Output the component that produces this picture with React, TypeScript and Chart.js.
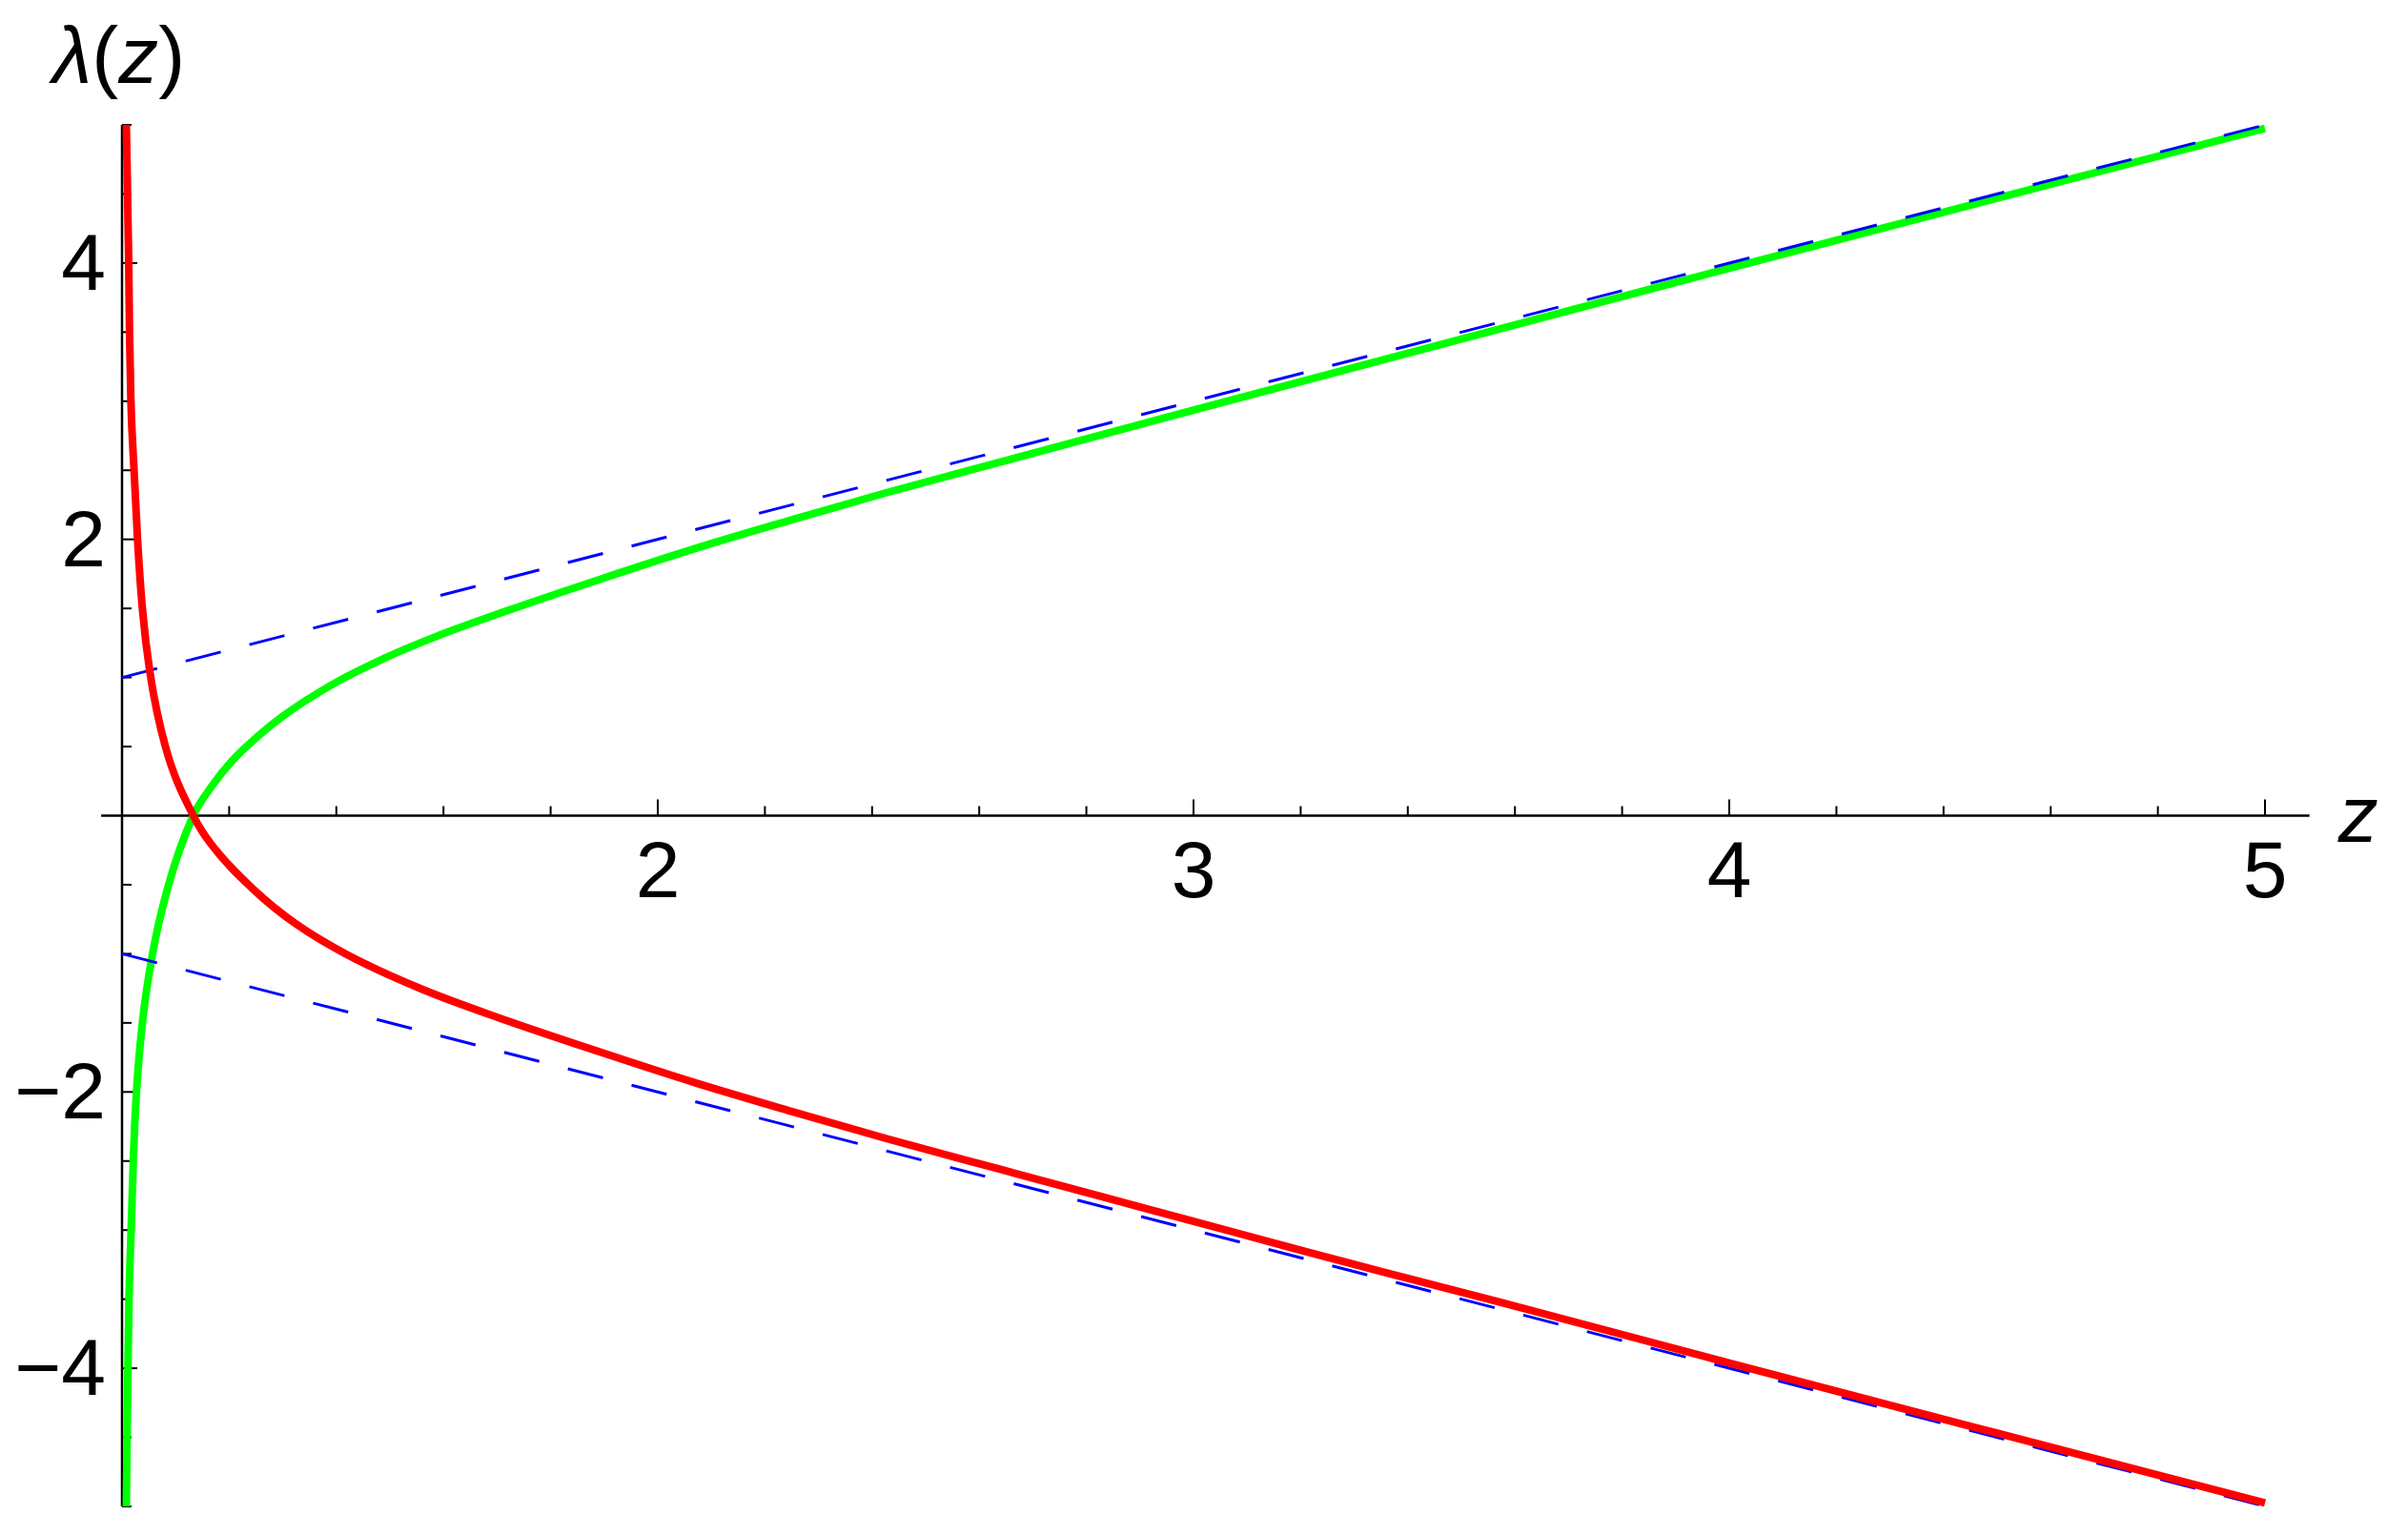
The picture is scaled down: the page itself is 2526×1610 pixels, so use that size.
import { useEffect, useRef } from 'react';
import { Chart, registerables } from 'chart.js';

Chart.register(...registerables);

// ---- data ----
const zGreen = [1.008, 1.011, 1.013, 1.017, 1.021, 1.027, 1.038, 1.057, 1.087, 1.133, 1.167, 1.205, 1.252, 1.3, 1.395, 1.49, 1.585, 1.715, 1.893, 2.071, 2.249, 2.427, 2.641, 3.0, 3.5, 4.0, 4.5, 5.0];
const lambdaGreen = [-5.0, -4.0, -3.5, -3.0, -2.5, -2.0, -1.5, -1.0, -0.5, 0.0, 0.21, 0.395, 0.57, 0.72, 0.955, 1.14, 1.295, 1.478, 1.712, 1.935, 2.14, 2.338, 2.562, 2.935, 3.45, 3.962, 4.47, 4.975];

const zRed = [1.008, 1.0125, 1.014, 1.0166, 1.0225, 1.029, 1.038, 1.052, 1.081, 1.133, 1.165, 1.247, 1.324, 1.419, 1.561, 1.703, 1.893, 2.071, 2.249, 2.427, 2.641, 2.819, 2.996, 3.174, 3.352, 3.566, 4.0, 4.5, 5.0];
const lambdaRed = [5.0, 4.0, 3.5, 3.0, 2.5, 2.0, 1.5, 1.04, 0.5, 0.0, -0.2, -0.54, -0.782, -1.004, -1.258, -1.463, -1.712, -1.935, -2.14, -2.338, -2.562, -2.748, -2.932, -3.118, -3.302, -3.515, -3.962, -4.47, -4.975];

const zAsymptote = [1, 5];
const lambdaUpper = [1, 5];
const lambdaLower = [-1, -5];

const xTickValues = [2, 3, 4, 5];
const xTickLabels = ['2', '3', '4', '5'];
const yTickValues = [-4, -2, 2, 4];
const yTickLabels = ['−4', '−2', '2', '4'];

const zMin = 1;
const zMax = 5;
const lambdaMin = -5;
const lambdaMax = 5;
const xAxisFrom = 0.961;
const xAxisTo = 5.083;
const xMinorStep = 0.2;
const yMinorStep = 0.5;

const FONT = "'Liberation Sans', Arial, sans-serif";

const toPoints = (xs: number[], ys: number[]) => xs.map((x, i) => ({ x, y: ys[i] }));

const axesPlugin = {
  id: 'mmaAxes',
  beforeDatasetsDraw(chart: any) {
    const { ctx } = chart;
    const xs = chart.scales.x;
    const ys = chart.scales.y;
    const x0 = xs.getPixelForValue(zMin);
    const y0 = ys.getPixelForValue(0);
    ctx.save();
    ctx.strokeStyle = '#000';
    ctx.fillStyle = '#000';
    ctx.lineCap = 'butt';

    // axis lines
    ctx.lineWidth = 2.5;
    ctx.beginPath();
    ctx.moveTo(xs.getPixelForValue(xAxisFrom), y0);
    ctx.lineTo(xs.getPixelForValue(xAxisTo), y0);
    ctx.stroke();
    ctx.beginPath();
    ctx.moveTo(x0, ys.getPixelForValue(lambdaMin));
    ctx.lineTo(x0, ys.getPixelForValue(lambdaMax));
    ctx.stroke();

    // x ticks (upwards)
    ctx.lineWidth = 2;
    const nx = Math.round((zMax - zMin) / xMinorStep);
    for (let i = 1; i <= nx; i++) {
      const v = zMin + i * xMinorStep;
      const major = Math.abs(v - Math.round(v)) < 1e-6;
      const px = xs.getPixelForValue(v);
      ctx.beginPath();
      ctx.moveTo(px, y0);
      ctx.lineTo(px, y0 - (major ? 17 : 10));
      ctx.stroke();
    }
    // y ticks (rightwards)
    const ny = Math.round((lambdaMax - lambdaMin) / yMinorStep);
    for (let i = 0; i <= ny; i++) {
      const v = lambdaMin + i * yMinorStep;
      if (Math.abs(v) < 1e-6) continue;
      const major = Math.abs(v / 2 - Math.round(v / 2)) < 1e-6;
      const py = ys.getPixelForValue(v);
      ctx.beginPath();
      ctx.moveTo(x0, py);
      ctx.lineTo(x0 + (major ? 16 : 10), py);
      ctx.stroke();
    }

    // tick labels
    ctx.font = `84px ${FONT}`;
    ctx.textBaseline = 'alphabetic';
    ctx.textAlign = 'center';
    xTickValues.forEach((v, i) => {
      ctx.fillText(xTickLabels[i], xs.getPixelForValue(v), y0 + 85);
    });
    ctx.textAlign = 'right';
    yTickValues.forEach((v, i) => {
      ctx.fillText(yTickLabels[i], x0 - 17, ys.getPixelForValue(v) + 28);
    });

    // axis labels
    ctx.textAlign = 'left';
    ctx.font = `italic 84px ${FONT}`;
    ctx.fillText('z', xs.getPixelForValue(xAxisTo) + 30, y0 + 27);

    let lx = 55;
    const ly = 87;
    const parts: [string, boolean][] = [['λ', true], ['(', false], ['z', true], [')', false]];
    parts.forEach(([t, it]) => {
      ctx.font = `${it ? 'italic ' : ''}84px ${FONT}`;
      ctx.fillText(t, lx, ly);
      lx += ctx.measureText(t).width;
    });
    ctx.restore();
  },
};

export default function App() {
  const ref = useRef<HTMLCanvasElement | null>(null);
  useEffect(() => {
    if (!ref.current) return;
    const chart = new Chart(ref.current, {
      type: 'line',
      data: {
        datasets: [
          {
            data: toPoints(zRed, lambdaRed),
            borderColor: '#ff0000',
            borderWidth: 8,
            pointRadius: 0,
            cubicInterpolationMode: 'monotone',
            fill: false,
            clip: false,
          },
          {
            data: toPoints(zAsymptote, lambdaUpper),
            borderColor: '#0000ff',
            borderWidth: 3,
            borderDash: [38, 31],
            pointRadius: 0,
            fill: false,
            clip: false,
          },
          {
            data: toPoints(zAsymptote, lambdaLower),
            borderColor: '#0000ff',
            borderWidth: 3,
            borderDash: [38, 31],
            pointRadius: 0,
            fill: false,
            clip: false,
          },
          {
            data: toPoints(zGreen, lambdaGreen),
            borderColor: '#00ff00',
            borderWidth: 8,
            pointRadius: 0,
            cubicInterpolationMode: 'monotone',
            fill: false,
            clip: false,
          },
        ] as any,
      },
      options: {
        animation: false,
        responsive: false,
        maintainAspectRatio: false,
        events: [],
        layout: { padding: { left: 128, right: 150, top: 131, bottom: 30 } },
        plugins: { legend: { display: false }, tooltip: { enabled: false } },
        scales: {
          x: { type: 'linear', min: zMin, max: zMax, display: false },
          y: { type: 'linear', min: lambdaMin, max: lambdaMax, display: false },
        },
      },
      plugins: [axesPlugin],
    });
    return () => chart.destroy();
  }, []);
  return (
    <div style={{ position: 'absolute', left: 0, top: 0, width: 2526, height: 1610, background: '#fff' }}>
      <canvas ref={ref} width={2526} height={1610} style={{ width: 2526, height: 1610, display: 'block' }} />
    </div>
  );
}
